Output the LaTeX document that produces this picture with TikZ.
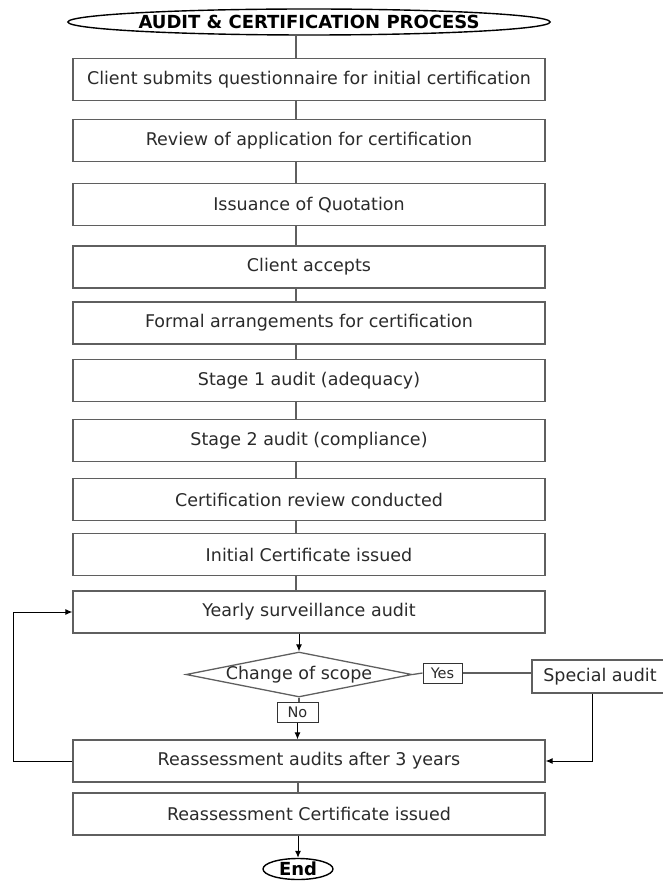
\documentclass[tikz,border=0pt]{standalone}
\usepackage{fontspec}
\setmainfont{DejaVu Sans}
\usetikzlibrary{shapes.geometric,arrows.meta}
\definecolor{auditline}{HTML}{5F5F5F}
\definecolor{audittext}{HTML}{2A2A2A}

\begin{document}
\begin{tikzpicture}[x=1pt,y=-1pt,font=\fontsize{17.5}{20}\selectfont,
		stepbox/.style={draw=auditline,line width=1.3pt,minimum width=472pt,minimum height=42pt,inner sep=0pt,text=audittext},
		flow/.style={draw=auditline,line width=1.3pt},
		arrowline/.style={draw=black,line width=1pt,-{Latex[length=7pt,width=6pt]}},
		tag/.style={draw=black!80,line width=1pt,font=\fontsize{14.5}{16}\selectfont,inner sep=0pt,minimum height=20pt,text=audittext},
		oval/.style={draw=black,ellipse,line width=1.4pt,inner sep=0pt,font=\fontsize{18}{20}\selectfont\bfseries}]
	\useasboundingbox (0,0) rectangle (662,885);
	\coordinate (spine) at (296,0);
	\coordinate (loopleft) at (13,0);
	\coordinate (specx) at (592,0);
	% title and the steps
	\node[oval,minimum width=475pt,minimum height=26pt] (title) at (309,22) {AUDIT \& CERTIFICATION PROCESS};
	\node[stepbox] (submit) at (309,79.5) {Client submits questionnaire for initial certification};
	\node[stepbox] (review) at (309,140.5) {Review of application for certification};
	\node[stepbox] (quote) at (309,204.5) {Issuance of Quotation};
	\node[stepbox] (accept) at (309,267) {Client accepts};
	\node[stepbox] (formal) at (309,323) {Formal arrangements for certification};
	\node[stepbox] (stageone) at (309,380.5) {Stage 1 audit (adequacy)};
	\node[stepbox] (stagetwo) at (309,440.5) {Stage 2 audit (compliance)};
	\node[stepbox] (certreview) at (309,499.5) {Certification review conducted};
	\node[stepbox] (initcert) at (309,554.5) {Initial Certificate issued};
	\node[stepbox] (yearly) at (309,612) {Yearly surveillance audit};
	% decision
	\node[draw=auditline,line width=1.3pt,diamond,minimum width=226pt,minimum height=45pt,inner sep=0pt] (scope) at (299,674.5) {};
	\node[text=audittext] (scopetext) at (scope) {Change of scope};
	\node[tag,minimum width=39pt] (yes) at (442.5,673) {Yes};
	\node[tag,minimum width=41pt] (no) at (297.5,712) {No};
	\node[stepbox,minimum width=136pt,minimum height=33pt] (special) at (600,676.5) {Special audit};
	\node[stepbox] (reassess) at (309,761) {Reassessment audits after 3 years};
	\node[stepbox] (recert) at (309,814) {Reassessment Certificate issued};
	\node[oval,minimum width=70pt,minimum height=21pt] (end) at (298,869) {End};
	% plain links
	\draw[flow] (title.south -| spine) -- (submit.north -| spine);
	\draw[flow] (submit.south -| spine) -- (review.north -| spine);
	\draw[flow] (review.south -| spine) -- (quote.north -| spine);
	\draw[flow] (quote.south -| spine) -- (accept.north -| spine);
	\draw[flow] (accept.south -| spine) -- (formal.north -| spine);
	\draw[flow] (formal.south -| spine) -- (stageone.north -| spine);
	\draw[flow] (stageone.south -| spine) -- (stagetwo.north -| spine);
	\draw[flow] (stagetwo.south -| spine) -- (certreview.north -| spine);
	\draw[flow] (certreview.south -| spine) -- (initcert.north -| spine);
	\draw[flow] (initcert.south -| spine) -- (yearly.north -| spine);
	\draw[flow] (reassess.south -| end) -- (recert.north -| end);
	\draw[flow] (scope.east) -- (yes.west);
	\draw[flow] (yes.east) -- (yes.east -| special.west);
	\draw[flow] (scope.south) -- (scope.south |- no.north);
	% arrows
	\draw[arrowline] (yearly.south -| scope) -- (scope.north);
	\draw[arrowline] (no.south) -- (no.south |- reassess.north);
	\draw[arrowline] (reassess.west) -- (reassess.west -| loopleft) |- (yearly.west);
	\draw[arrowline] (special.south -| specx) |- (reassess.east);
	\draw[arrowline] (recert.south -| end) -- (end.north);
\end{tikzpicture}
\end{document}
